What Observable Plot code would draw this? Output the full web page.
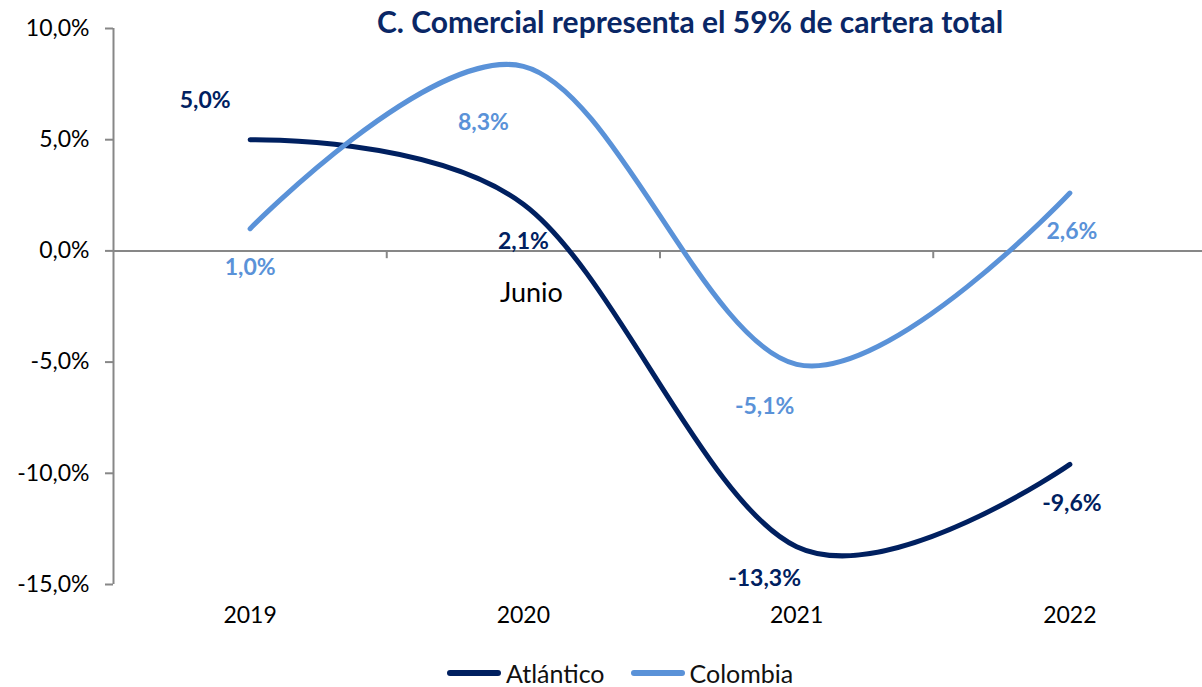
<!DOCTYPE html>
<html>
<head>
<meta charset="utf-8">
<script src="https://cdn.jsdelivr.net/npm/d3@7"></script>
<script src="https://cdn.jsdelivr.net/npm/@observablehq/plot@0.6"></script>
<style>
  html, body { margin: 0; padding: 0; background: white; }
  #wrap { position: relative; width: 1202px; height: 687px; font-family: Lato, "Open Sans", sans-serif; }
  #title { position: absolute; top: 3px; left: 0; width: 1380px; text-align: center; font-weight: bold; font-size: 30px; color: #0a2766; white-space: nowrap; }
  #legend { position: absolute; top: 661px; left: 447px; display: flex; align-items: center; font-size: 25px; line-height: 24px; color: #111; white-space: nowrap; }
  .sw { display: inline-block; width: 54px; height: 6px; border-radius: 3px; margin-right: 5px; }
</style>
</head>
<body>
<div id="wrap">
  <div id="chart"></div>
  <div id="title">C. Comercial representa el 59% de cartera total</div>
  <div id="legend"></div>
</div>
<script>
// ---- data ----
const years = ["2019", "2020", "2021", "2022"];
const seriesNames = ["Atlántico", "Colombia"];
const atlantico = [5.0, 2.1, -13.3, -9.6];
const colombia = [1.0, 8.3, -5.1, 2.6];
const yTicks = [-15, -10, -5, 0, 5, 10];
const noteText = "Junio";

// ---- style ----
const colors = ["#002060", "#5a92d8"];
const labelOffsets = [
  [[-45, -39], [0, 37], [-32, 32], [2, 39]],
  [[0, 39], [-40, 56], [-32, 42], [2, 39]]
];

const fmt = v => v.toFixed(1).replace(".", ",") + "%";
const seriesValues = [atlantico, colombia];
const rows = seriesValues.flatMap((vals, s) => vals.map((v, i) => ({ i, year: years[i], value: v, series: seriesNames[s] })));

const labelMarks = [];
seriesValues.forEach((vals, s) => {
  vals.forEach((v, i) => {
    labelMarks.push(Plot.text([{ i, value: v }], {
      x: "i", y: "value", text: d => fmt(d.value),
      dx: labelOffsets[s][i][0], dy: labelOffsets[s][i][1],
      fill: colors[s], fontWeight: "bold", fontSize: 23
    }));
  });
});

const chart = Plot.plot({
  width: 1202,
  height: 687,
  marginTop: 28,
  marginBottom: 103,
  marginLeft: 113,
  marginRight: 0,
  x: { domain: [-0.5, years.length - 0.5], range: [113, 1206], axis: null, label: null },
  y: { domain: [-15, 10], axis: null, label: null },
  style: { fontFamily: "Lato, 'Open Sans', sans-serif", fontSize: "20px", background: "white", color: "black", overflow: "visible" },
  marks: [
    Plot.axisY({ ticks: yTicks, tickFormat: fmt, tickSize: 8, tickPadding: 16, stroke: "#878787", strokeWidth: 2, fill: "black", fontSize: 23, label: null }),
    Plot.ruleX([-0.5], { stroke: "#878787", strokeWidth: 2 }),
    Plot.ruleY([0], { stroke: "#878787", strokeWidth: 2 }),
    Plot.ruleX([0.5, 1.5, 2.5], { y1: 0, y2: -0.35, stroke: "#878787", strokeWidth: 2 }),
    Plot.axisX({ ticks: [0, 1, 2, 3], tickFormat: i => years[i], tickSize: 0, tickPadding: 22, fill: "black", fontSize: 23, label: null }),
    Plot.line(rows, { x: "i", y: "value", z: "series", stroke: d => colors[seriesNames.indexOf(d.series)], strokeWidth: 5, curve: "cardinal", tension: 0, strokeLinecap: "round" }),
    Plot.text([{ i: 1, value: 0 }], { x: "i", y: "value", text: () => noteText, dx: 8, dy: 42, fill: "black", fontSize: 27 }),
    ...labelMarks
  ]
});
document.getElementById("chart").appendChild(chart);

// legend
const legend = document.getElementById("legend");
seriesNames.forEach((name, s) => {
  const item = document.createElement("span");
  item.style.display = "inline-flex";
  item.style.alignItems = "center";
  item.style.marginRight = s === 0 ? "26px" : "0";
  const sw = document.createElement("span");
  sw.className = "sw";
  sw.style.background = colors[s];
  item.appendChild(sw);
  item.appendChild(document.createTextNode(name));
  legend.appendChild(item);
});
</script>
</body>
</html>
